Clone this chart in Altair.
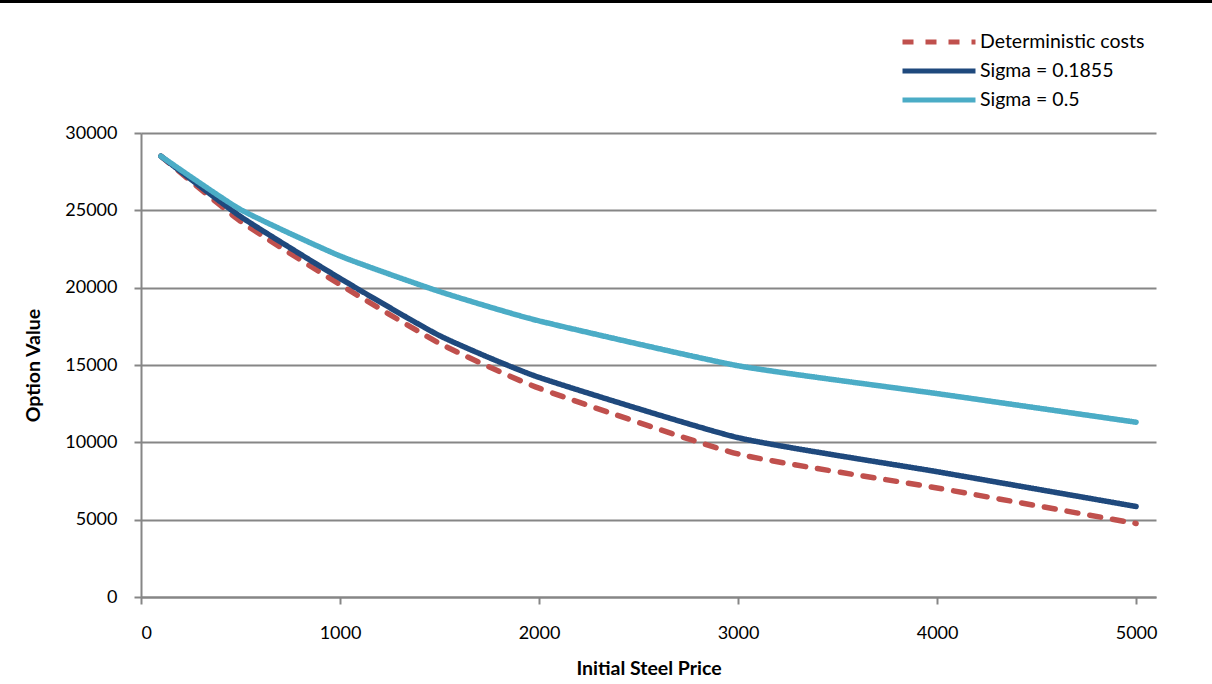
import altair as alt
import pandas as pd

# Initial steel price (x) and option values for each cost model
steel_price = [100, 500, 1000, 1500, 2000, 3000, 4000, 5000]
deterministic = [28500, 24300, 20200, 16400, 13500, 9250, 7050, 4750]
sigma_01855 = [28500, 24600, 20600, 16900, 14200, 10300, 8100, 5850]
sigma_05 = [28500, 25050, 22050, 19750, 17850, 14950, 13150, 11300]

series_names = ["Deterministic costs", "Sigma = 0.1855", "Sigma = 0.5"]
series_colors = ["#C0504D", "#1F497D", "#4BACC6"]
series_dashes = [[11, 12], [1, 0], [1, 0]]

x_ticks = [0, 1000, 2000, 3000, 4000, 5000]
y_ticks = [0, 5000, 10000, 15000, 20000, 25000, 30000]

rows = []
for name, values in zip(series_names, [deterministic, sigma_01855, sigma_05]):
    for i, (p, v) in enumerate(zip(steel_price, values)):
        rows.append({"price": p, "value": v, "series": name, "idx": i})
df = pd.DataFrame(rows)

FONT = "Lato"
GRID = "#868686"

# long horizontal stroke used as the legend swatch
legend_opts = dict(
    title=None, orient="none", legendX=786, legendY=-103,
    symbolType="M-4,0H4", symbolSize=333, symbolStrokeWidth=5,
    labelFontSize=19.5, labelFont=FONT, labelColor="#000000", labelLimit=400,
    rowPadding=7, labelOffset=29, padding=0,
)

lines = alt.Chart(df).mark_line(
    strokeWidth=5.5, strokeCap="round", strokeJoin="round",
    interpolate="cardinal", tension=0.5,
).encode(
    x=alt.X(
        "price:Q",
        scale=alt.Scale(domain=[0, 5100], nice=False, zero=False),
        axis=alt.Axis(
            values=x_ticks, format="d", title="Initial Steel Price", grid=False,
            tickSize=7, labelPadding=20, titlePadding=17,
        ),
    ),
    y=alt.Y(
        "value:Q",
        scale=alt.Scale(domain=[0, 30000], nice=False),
        axis=alt.Axis(
            values=y_ticks, format="d", title="Option Value", grid=True,
            tickSize=7, labelPadding=17, titlePadding=21,
        ),
    ),
    color=alt.Color(
        "series:N",
        scale=alt.Scale(domain=series_names, range=series_colors),
        legend=alt.Legend(**legend_opts),
    ),
    strokeDash=alt.StrokeDash(
        "series:N",
        scale=alt.Scale(domain=series_names, range=series_dashes),
        legend=alt.Legend(**legend_opts),
    ),
    order="idx:Q",
)

# thin black rule along the top edge of the page
top_bar = alt.Chart(df).mark_rule(color="#000000", strokeWidth=3, clip=False).encode(
    x=alt.value(-141), x2=alt.value(1071), y=alt.value(-132)
)

chart = alt.layer(lines, top_bar).properties(
    width=1015, height=464,
    padding={"left": 141, "top": 133, "right": 56, "bottom": 87},
    autosize=alt.AutoSizeParams(type="none"),
    background="#FFFFFF",
).configure_view(stroke=None).configure_axis(
    domainColor=GRID, domainWidth=2, tickColor=GRID, tickWidth=2,
    gridColor=GRID, gridWidth=2,
    labelFont=FONT, labelFontSize=18, labelColor="#000000",
    titleFont=FONT, titleFontSize=19.5, titleFontWeight="bold", titleColor="#000000",
)

chart.save("out.html", embed_options={"renderer": "svg", "actions": False})
